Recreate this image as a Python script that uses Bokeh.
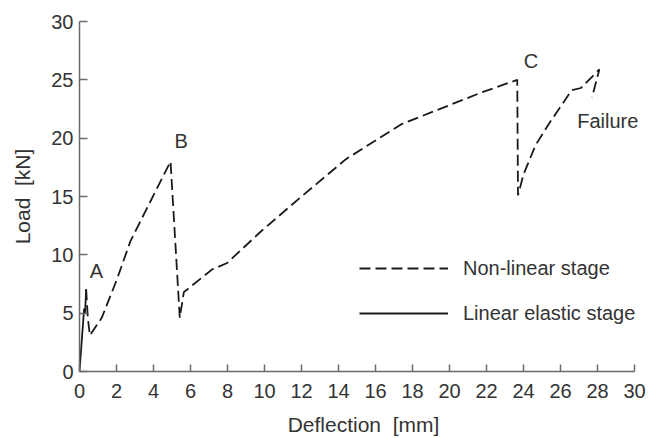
from bokeh.plotting import figure
from bokeh.models import Range1d, Legend, LegendItem, ColumnDataSource, FixedTicker
from bokeh.core.properties import value
from bokeh.embed import file_html
from bokeh.resources import INLINE

# ---- data ----
linear_x = [0.0, 0.25, 0.30, 0.36]
linear_y = [0.0, 5.4, 5.0, 7.05]

nonlinear_x = [0.36, 0.45, 0.56, 1.2, 2.0, 2.76, 4.92, 5.42, 5.64, 7.17, 7.98,
               9.8, 12.0, 14.4, 17.4, 21.7, 23.66, 23.70, 24.0, 24.65, 25.4,
               26.3, 26.6, 27.1, 28.1, 27.7]
nonlinear_y = [7.05, 4.6, 3.1, 4.6, 7.8, 11.2, 18.0, 4.6, 6.8, 8.75, 9.3,
               12.0, 15.0, 18.2, 21.2, 23.9, 25.0, 15.1, 16.9, 19.4, 21.3,
               23.4, 24.1, 24.3, 25.9, 23.5]

x_ticks = list(range(0, 31, 2))
y_ticks = list(range(0, 31, 5))

ann_text = ["A", "B", "C"]
ann_x = [0.92, 5.5, 24.4]
ann_y = [8.6, 19.8, 26.6]
fail_text = ["Failure"]
fail_x = [26.9]
fail_y = [21.5]

legend_labels = ["Non-linear stage", "Linear elastic stage"]

FONT = "Liberation Sans"
TXT = "#333333"
AX = "#6a6a6a"
LINE = "#1a1a1a"

p = figure(width=650, height=438, output_backend="svg", toolbar_location=None,
           x_range=Range1d(0, 30.7), y_range=Range1d(0, 30),
           min_border_left=79, min_border_right=3, min_border_top=21,
           min_border_bottom=63)
p.outline_line_color = None
p.grid.visible = False
p.background_fill_color = "white"

for ax in (p.xaxis[0], p.yaxis[0]):
    ax.axis_line_color = AX
    ax.axis_line_width = 1.5
    ax.major_tick_line_color = AX
    ax.major_tick_line_width = 1.5
    ax.major_tick_out = 0
    ax.minor_tick_line_color = None
    ax.major_label_text_font = FONT
    ax.major_label_text_font_size = "20px"
    ax.major_label_text_color = TXT
    ax.axis_label_text_font = FONT
    ax.axis_label_text_font_size = "21px"
    ax.axis_label_text_font_style = "normal"
    ax.axis_label_text_color = TXT

p.xaxis.bounds = (0, 30)
p.xaxis.ticker = FixedTicker(ticks=x_ticks)
p.yaxis.ticker = FixedTicker(ticks=y_ticks)
p.xaxis.major_tick_in = 7
p.yaxis.major_tick_in = 8
p.xaxis.major_label_standoff = 12
p.yaxis.major_label_standoff = 6
p.xaxis.axis_label = "Deflection \u00a0[mm]"
p.yaxis.axis_label = "Load \u00a0[kN]"
p.xaxis.axis_label_standoff = 12
p.yaxis.axis_label_standoff = 14

r_non = p.line(nonlinear_x, nonlinear_y, line_color=LINE, line_width=1.8,
               line_dash="11 5")
r_lin = p.line(linear_x, linear_y, line_color=LINE, line_width=1.8)

src = ColumnDataSource(dict(x=ann_x, y=ann_y, t=ann_text))
p.text("x", "y", text="t", source=src, text_font=value(FONT),
       text_font_size="20px", text_color=TXT, text_align="center",
       text_baseline="middle")
src2 = ColumnDataSource(dict(x=fail_x, y=fail_y, t=fail_text))
p.text("x", "y", text="t", source=src2, text_font=value(FONT),
       text_font_size="20px", text_color=TXT, text_align="left",
       text_baseline="middle")

legend = Legend(items=[LegendItem(label=legend_labels[0], renderers=[r_non]),
                       LegendItem(label=legend_labels[1], renderers=[r_lin])],
                location=(280, 46), orientation="vertical")
legend.glyph_width = 89
legend.glyph_height = 24
legend.label_height = 24
legend.spacing = 21
legend.padding = 0
legend.margin = 0
legend.label_standoff = 15
legend.border_line_color = None
legend.background_fill_alpha = 0
legend.label_text_font = FONT
legend.label_text_font_size = "20px"
legend.label_text_color = TXT
p.add_layout(legend, "center")

open("out.html", "w").write(file_html(p, INLINE))
